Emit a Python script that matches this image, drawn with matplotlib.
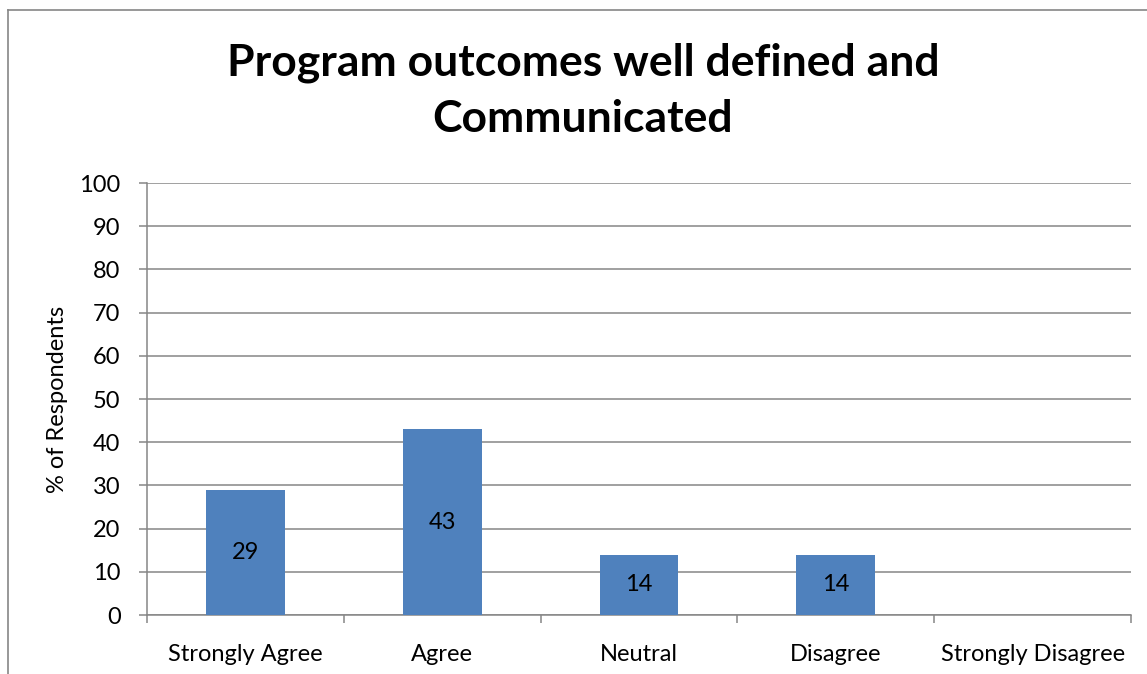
import matplotlib
matplotlib.use("Agg")
import matplotlib.pyplot as plt
from matplotlib.lines import Line2D
import numpy as np

categories = ["Strongly Agree", "Agree", "Neutral", "Disagree", "Strongly Disagree"]
values = [29, 43, 14, 14, 0]
labels = ["29", "43", "14", "14", ""]
title = "Program outcomes well defined and\nCommunicated"
ylabel = "% of Respondents"

plt.rcParams['font.family'] = ['Lato', 'DejaVu Sans']
gray = "#868686"
bar_color = "#4F81BD"

fig = plt.figure(figsize=(11.47, 6.74), dpi=100)
ax = fig.add_axes([147/1147, 1-615/674, (1131-147)/1147, (615-183)/674])

x = np.arange(len(categories))
bars = ax.bar(x, values, width=0.4, color=bar_color, zorder=3)
for xi, v, lab in zip(x, values, labels):
    if lab:
        ax.text(xi, v/2, lab, ha="center", va="center", fontsize=17, color="black", zorder=4)

ax.set_xlim(-0.5, len(categories)-0.5)
ax.set_ylim(0, 100)
ax.set_yticks(np.arange(0, 101, 10))
ax.yaxis.grid(True, color=gray, linewidth=1.1, zorder=0)
ax.set_xticks(x)
ax.set_xticklabels(categories, fontsize=17)
ax.set_xticks(np.arange(-0.5, len(categories), 1), minor=True)
ax.tick_params(axis="x", which="major", length=0, pad=21)
ax.tick_params(axis="x", which="minor", length=6, width=1.1, color=gray, direction="out")
ax.tick_params(axis="y", which="major", length=6, width=1.1, color=gray, labelsize=17, pad=13)
for s in ["top", "right"]:
    ax.spines[s].set_visible(False)
for s in ["left", "bottom"]:
    ax.spines[s].set_color(gray)
    ax.spines[s].set_linewidth(1.1)
ax.set_ylabel(ylabel, fontsize=17, labelpad=8)

fig.text(583/1147, 1-91/674, title, ha="center", va="center", fontsize=32,
         fontweight="bold", linespacing=1.5)

# outer chart border (left and top visible)
fig.add_artist(Line2D([8/1147, 8/1147], [0, 1-10/674], transform=fig.transFigure, color=gray, lw=1.2))
fig.add_artist(Line2D([8/1147, 1], [1-10/674, 1-10/674], transform=fig.transFigure, color=gray, lw=1.2))

fig.savefig("out.png", dpi=100)
